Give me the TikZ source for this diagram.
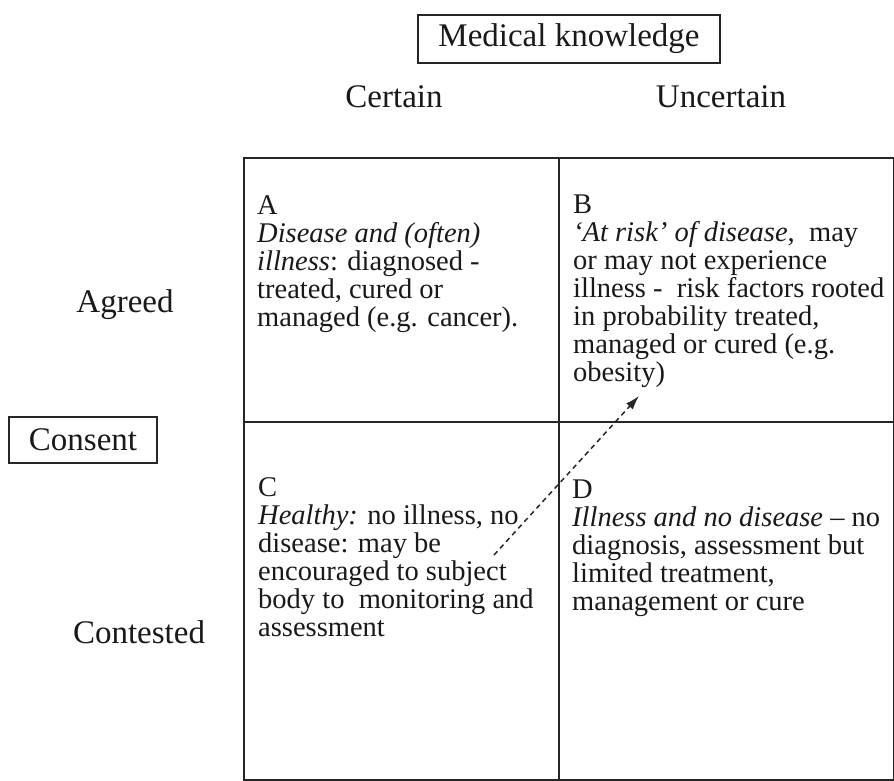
\documentclass[tikz,border=0pt]{standalone}
\usepackage{fontspec}
\setmainfont{Liberation Serif}
\usepackage{tikz}
\usetikzlibrary{arrows.meta}
\usetikzlibrary{positioning}

\begin{document}
\begin{tikzpicture}[x=1pt,y=-1pt]
  \tikzset{cell/.style = {draw=black!85, line width=1.8pt, inner sep=0pt, anchor=north west}}
  \tikzset{celltext/.style = {anchor=north west, align=left, inner sep=0pt, text=black!90, font=\fontsize{28.5}{28}\selectfont}}
  \tikzset{axistext/.style = {inner sep=0pt, text=black!90, font=\fontsize{33}{36}\selectfont}}
  \tikzset{axisbox/.style = {draw=black!85, line width=1.8pt, text=black!90, font=\fontsize{33}{36}\selectfont}}
  \tikzset{edge/.style = {-{Latex[length=14pt,width=9pt]}, dash pattern=on 5pt off 4pt, line width=1.5pt, black!85}}

  \useasboundingbox (0,0) rectangle (894,781);

	% the four quadrants
	\node[cell, minimum width=315pt, minimum height=264pt] (QA) at (243,157) {};
	\node[cell, minimum width=335pt, minimum height=264pt] (QB) at (558,157) {};
	\node[cell, minimum width=315pt, minimum height=358pt] (QC) at (243,421) {};
	\node[cell, minimum width=335pt, minimum height=358pt] (QD) at (558,421) {};

	% headings
	\node[axisbox, minimum width=302pt, minimum height=48pt] (MK) at (569,39) {Medical knowledge};
	\node[axistext] (CE) at (394,97) {Certain};
	\node[axistext] (UN) at (721,97) {Uncertain};
	\node[axisbox, minimum width=148pt, minimum height=46pt] (CO) at (83,440) {Consent};
	\node[axistext] (AG) at (125,305) {Agreed};
	\node[axistext] (CT) at (139,632) {Contested};

	% quadrant texts
	\node[celltext] (TA) at (257,195) {A\\
	  \textit{Disease and (often)}\\
	  \textit{illness}: diagnosed -\\
	  treated, cured or\\
	  managed (e.g. cancer).};
	\node[celltext] (TB) at (573,195) {B\\
	  \textit{`At risk' of disease},\ \ may\\
	  or may not experience\\
	  illness -\ \ risk factors rooted\\
	  in probability treated,\\
	  managed or cured (e.g.\\
	  obesity)};
	\node[celltext] (TC) at (258,477) {C\\
	  \textit{Healthy:} no illness, no\\
	  disease: may be\\
	  encouraged to subject\\
	  body to\ \ monitoring and\\
	  assessment};
	\node[celltext] (TD) at (572,480) {D\\
	  \textit{Illness and no disease} -- no\\
	  diagnosis, assessment but\\
	  limited treatment,\\
	  management or cure};

	\coordinate (hC) at (494,555);
	\coordinate (hB) at (639,396);

    \foreach \from/\to in {hC/hB}
    \path[edge](\from) edge (\to);

\end{tikzpicture}
\end{document}
